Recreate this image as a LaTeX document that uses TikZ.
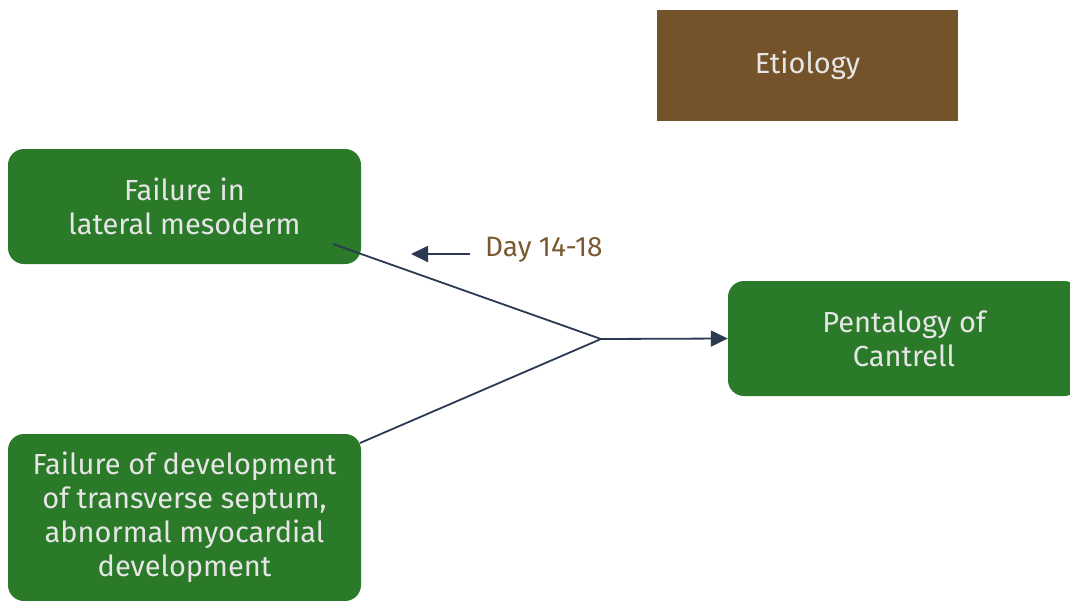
\documentclass[tikz,border=0pt]{standalone}
\usepackage{fontspec}
\setmainfont{Fira Sans}
\usetikzlibrary{arrows.meta}
\definecolor{boxgreen}{HTML}{2A7A2A}
\definecolor{boxbrown}{HTML}{74532A}
\definecolor{linknavy}{HTML}{2B3A50}
\definecolor{labelbrown}{HTML}{7A5A30}
\definecolor{boxtext}{HTML}{E6E6E6}
\begin{document}
\begin{tikzpicture}[x=1pt,y=-1pt,
  greenbox/.style={fill=boxgreen, rounded corners=16pt, text=boxtext, align=center,
    font=\fontsize{29}{34}\selectfont, inner sep=0pt},
  titlebox/.style={fill=boxbrown, text=boxtext, font=\fontsize{29}{34}\selectfont, inner sep=0pt},
  link/.style={draw=linknavy, line width=1.8pt},
  tip/.style={-{Triangle[length=17pt,width=16pt]}}
]
\useasboundingbox (0,0) rectangle (1070,600);
% boxes
\node[titlebox, minimum width=301pt, minimum height=111pt] (etio) at (807.5,65.5) {Etiology};
\node[greenbox, minimum width=353pt, minimum height=115pt] (lat) at (184.5,206.5)
  {Failure in\\lateral mesoderm};
\node[greenbox, minimum width=353pt, minimum height=167pt] (sept) at (184.5,517.5)
  {Failure of development\\of transverse septum,\\abnormal myocardial\\development};
\node[greenbox, minimum width=352pt, minimum height=115pt] (pent) at (904,338.5)
  {Pentalogy of\\Cantrell};
% junction where the two causes meet
\coordinate (join) at (601,339);
\coordinate (latend) at (333,244);
\coordinate (septend) at (360,443);
\draw[link] (latend) -- (join);
\draw[link] (septend) -- (join);
\draw[link, tip] (join) -- (pent.west);
% day label with its arrow
\node[text=labelbrown, font=\fontsize{28}{32}\selectfont, anchor=west, inner sep=0pt] (day) at (485,250) {Day 14-18};
\coordinate (dayarrow) at (411,254);
\draw[link, tip] (day.west) ++(-15,4) coordinate (daystart) -- (dayarrow);
\end{tikzpicture}
\end{document}
